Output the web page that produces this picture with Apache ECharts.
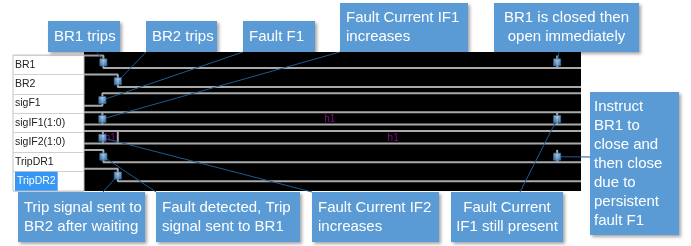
<!DOCTYPE html>
<html><head><meta charset="utf-8">
<script src="https://cdn.jsdelivr.net/npm/echarts@6/dist/echarts.min.js"></script>
<style>html,body{margin:0;padding:0;background:#fff}#c{width:691px;height:246px}</style>
</head><body><div id="c"></div>
<script>
// ---- data ----
const signals = ['BR1', 'BR2', 'sigF1', 'sigIF1(1:0)', 'sigIF2(1:0)', 'TripDR1', 'TripDR2'];
const highlighted = 'TripDR2';
const timeWindow = [0, 100];
// binary signals: initial level, transition times
const br1Init = 1,     br1Edges = [3.9, 95.2, 95.3];
const br2Init = 1,     br2Edges = [6.8];
const sigF1Init = 0,   sigF1Edges = [3.7];
const tripDR1Init = 1, tripDR1Edges = [3.9, 95.2, 95.3];
const tripDR2Init = 1, tripDR2Edges = [6.8];
// bus signals: [start, end, value]
const sigIF1Segments = [[-10, 3.7, ''], [3.7, 95.2, 'h1'], [95.2, 110, '']];
const sigIF2Segments = [[-10, 3.8, ''], [3.8, 6.8, 'h1'], [6.8, 117.6, 'h1']];
// event markers: [time, signal]
const markerTimes = [3.9, 6.8, 3.7, 3.7, 3.7, 3.9, 6.8, 95.2, 95.2, 95.2];
const markerSignals = ['BR1', 'BR2', 'sigF1', 'sigIF1(1:0)', 'sigIF2(1:0)', 'TripDR1', 'TripDR2', 'BR1', 'sigIF1(1:0)', 'TripDR1'];
// callout texts and the marker each one points to
const calloutTexts = [
  'BR1 trips', 'BR2 trips', 'Fault F1', 'Fault Current IF1\nincreases',
  'BR1 is closed then\nopen immediately',
  'Instruct\nBR1 to\nclose and\nthen close\ndue to\npersistent\nfault F1',
  'Trip signal sent to\nBR2 after waiting', 'Fault detected, Trip\nsignal sent to BR1',
  'Fault Current IF2\nincreases', 'Fault Current\nIF1 still present'
];
const calloutMarker = [0, 1, 2, 3, 7, 9, 6, 5, 4, 8];

// ---- layout (pixels) ----
const calloutLayout = [
  {box: [48, 21, 72, 31], align: 'left', anchor: [97, 52]},
  {box: [146, 21, 71, 31], align: 'left', anchor: [146, 52]},
  {box: [243, 21, 72, 31], align: 'left', anchor: [243, 52]},
  {box: [340, 3, 128, 49], align: 'left', anchor: [340, 52]},
  {box: [494, 3, 145, 49], align: 'center', anchor: [559, 52]},
  {box: [590, 92, 89, 143], align: 'left', anchor: [590, 157]},
  {box: [18, 192, 127, 50], align: 'left', anchor: [103, 192]},
  {box: [156, 192, 144, 50], align: 'left', anchor: [156, 192]},
  {box: [312, 192, 127, 50], align: 'left', anchor: [312, 192]},
  {box: [451, 192, 112, 50], align: 'center', anchor: [520, 192]}
];
const HIGH = 0.12, LOW = 0.78, MID = 0.48;
const rowOf = s => signals.indexOf(s);

function binaryPath(init, edges, name) {
  const r = rowOf(name), y = l => r + (l ? HIGH : LOW);
  let lvl = init;
  const pts = [[timeWindow[0], y(lvl)]];
  edges.forEach(e => { pts.push([e, y(lvl)]); lvl = 1 - lvl; pts.push([e, y(lvl)]); });
  pts.push([timeWindow[1], y(lvl)]);
  return pts;
}
function busPath(segs, name) {
  const r = rowOf(name);
  const pts = [[timeWindow[0], r + HIGH], [timeWindow[1], r + HIGH], '-',
               [timeWindow[0], r + LOW], [timeWindow[1], r + LOW], '-'];
  segs.forEach(s => { if (s[0] > timeWindow[0]) pts.push([s[0], r + HIGH], [s[0], r + LOW], '-'); });
  return pts;
}
function busLabels(segs, name) {
  const r = rowOf(name);
  return segs.filter(s => s[2]).map(s => [(s[0] + s[1]) / 2, r + MID, s[2]]);
}

const traceStyle = {color: '#a9a9a9', width: 2};
const traces = [
  binaryPath(br1Init, br1Edges, 'BR1'),
  binaryPath(br2Init, br2Edges, 'BR2'),
  binaryPath(sigF1Init, sigF1Edges, 'sigF1'),
  busPath(sigIF1Segments, 'sigIF1(1:0)'),
  busPath(sigIF2Segments, 'sigIF2(1:0)'),
  binaryPath(tripDR1Init, tripDR1Edges, 'TripDR1'),
  binaryPath(tripDR2Init, tripDR2Edges, 'TripDR2')
];
const markerData = markerTimes.map((t, i) => [t, rowOf(markerSignals[i]) + MID]);

const chart = echarts.init(document.getElementById('c'), null, {renderer: 'canvas'});
const series = traces.map(d => ({
  type: 'line', data: d, xAxisIndex: 0, yAxisIndex: 0, symbol: 'none',
  lineStyle: traceStyle, connectNulls: false, silent: true, z: 3, animation: false
}));
series.push({
  type: 'scatter', xAxisIndex: 0, yAxisIndex: 0, symbolSize: 1,
  data: busLabels(sigIF1Segments, 'sigIF1(1:0)').concat(busLabels(sigIF2Segments, 'sigIF2(1:0)')),
  itemStyle: {color: 'transparent'}, z: 4, animation: false,
  label: {show: true, position: 'inside', formatter: p => p.data[2], color: '#a010a8',
          fontSize: 10, fontFamily: 'Liberation Sans Narrow, Liberation Sans'}
});
series.push({
  type: 'scatter', xAxisIndex: 0, yAxisIndex: 0, data: markerData, symbol: 'rect',
  symbolSize: [7, 7], z: 20, animation: false,
  itemStyle: {
    color: new echarts.graphic.LinearGradient(0, 0, 0, 1, [{offset: 0, color: '#c5ddf4'}, {offset: 1, color: '#4f8fd0'}]),
    borderColor: '#2f6fad', borderWidth: 1
  }
});

chart.setOption({
  animation: false,
  grid: [
    {left: 84, top: 52, width: 497, height: 139, show: true, backgroundColor: '#000', borderWidth: 0},
    {left: 13, top: 55, width: 71, height: 136, show: true, backgroundColor: '#fff', borderColor: '#c4c4c4', borderWidth: 1}
  ],
  xAxis: [
    {gridIndex: 0, type: 'value', min: timeWindow[0], max: timeWindow[1], show: false},
    {gridIndex: 1, type: 'value', show: false}
  ],
  yAxis: [
    {gridIndex: 0, type: 'value', inverse: true, min: -0.07, max: 7.3, show: false},
    {gridIndex: 1, type: 'category', inverse: true,
     data: signals.map(s => s === highlighted
       ? {value: s, textStyle: {backgroundColor: '#3797f5', color: '#fff', padding: [4, 2, 4, 2]}}
       : s),
     axisLine: {show: false}, axisTick: {show: false},
     splitLine: {show: true, lineStyle: {color: '#d0d0d0', width: 1}},
     axisLabel: {inside: true, margin: 2, fontSize: 10.5, color: '#222',
                 fontFamily: 'Liberation Sans Narrow, Liberation Sans'}}
  ],
  series: series
});

const graphics = [];
calloutTexts.forEach((txt, i) => {
  const L = calloutLayout[i];
  const [bx, by, bw, bh] = L.box;
  const m = markerData[calloutMarker[i]];
  const p = chart.convertToPixel({xAxisIndex: 0, yAxisIndex: 0}, m);
  graphics.push({type: 'line', z: 10, silent: true,
    shape: {x1: L.anchor[0], y1: L.anchor[1], x2: p[0], y2: p[1]},
    style: {stroke: '#1f5b8e', lineWidth: 1}});
  graphics.push({type: 'rect', z: 30, silent: true,
    shape: {x: bx, y: by, width: bw, height: bh},
    style: {fill: '#5b9bd5', shadowBlur: 3, shadowOffsetX: 2, shadowOffsetY: 2, shadowColor: 'rgba(0,0,0,0.35)'}});
  graphics.push({type: 'text', z: 31, silent: true,
    style: {text: txt, x: L.align === 'center' ? bx + bw / 2 : bx + (bw < 100 && bh > 100 ? 4 : 6),
            y: by + bh / 2, align: L.align, verticalAlign: 'middle',
            fill: '#ffffff', font: '15px "Liberation Sans"', lineHeight: 19}});
});
chart.setOption({graphic: graphics});
</script></body></html>
